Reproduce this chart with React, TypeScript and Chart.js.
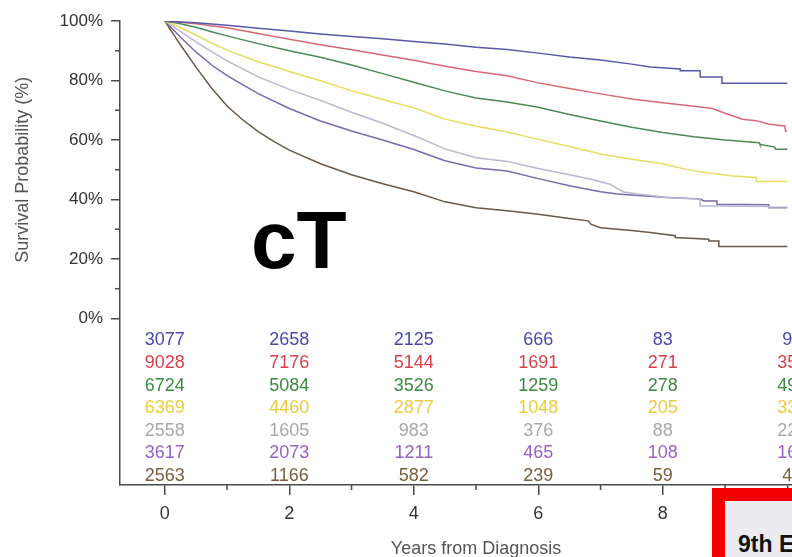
import React, { useEffect, useRef } from "react";
import { Chart, registerables } from "chart.js";

Chart.register(...registerables);

// ---- Data ----
const seriesNames = ["T1a", "T1b", "T1c", "T2a", "T2b", "T3", "T4"];

const curveT1a = [[0,100],[0.25,99.7],[0.5,99.4],[1,98.6],[1.5,97.6],[2,96.6],[2.5,95.6],[3,94.8],[3.5,94],[4,93.1],[4.5,92.3],[5,91.2],[5.5,90.4],[6,89.2],[6.5,87.9],[7,86.9],[7.5,85.5],[7.8,84.5],[8.28,83.9],[8.28,83.3],[8.6,83.3],[8.6,81.2],[8.95,81.2],[8.95,79.1],[10,79.1]];
const curveT1b = [[0,100],[0.25,99.6],[0.5,99.1],[0.75,98.4],[1,97.7],[1.5,95.8],[2,93.9],[2.5,92],[3,90.3],[3.5,88.6],[4,86.8],[4.5,84.8],[5,83],[5.5,81.6],[6,79.2],[6.5,77.3],[7,75.5],[7.5,73.8],[8,72.5],[8.5,71.3],[8.8,70.6],[9.0,69],[9.28,67],[9.5,66.5],[9.71,65.3],[9.96,64.7],[9.97,63],[10,63]];
const curveT1c = [[0,100],[0.25,99.1],[0.5,97.9],[0.75,96.4],[1,95],[1.5,92.4],[2,90],[2.5,87.8],[3,85.2],[3.5,82.3],[4,79.4],[4.5,76.5],[5,74.1],[5.5,72.8],[6,71],[6.5,68.6],[7,66.4],[7.5,64.3],[8,62.5],[8.5,61.1],[9,60],[9.55,59.1],[9.56,58.5],[9.8,57.6],[9.81,56.9],[10,56.9]];
const curveT2a = [[0,100],[0.25,97.8],[0.5,95.3],[0.75,92.6],[1,90.2],[1.5,86.3],[2,83],[2.5,79.9],[3,76.6],[3.5,73.6],[4,70.8],[4.5,67],[5,64.6],[5.5,62.7],[6,60.2],[6.5,57.8],[7,55.3],[7.5,53.5],[8,52],[8.36,50.2],[8.6,49.3],[9.12,47.9],[9.5,47.4],[9.5,46],[10,46]];
const curveT2b = [[0,100],[0.25,96.5],[0.5,93],[0.75,89.7],[1,86.6],[1.5,81.2],[2,77],[2.5,73.3],[3,69.3],[3.5,65.6],[4,61.5],[4.5,57],[5,54],[5.5,52.8],[6,50.4],[6.5,48.3],[6.85,46.8],[7.15,45.1],[7.37,42.5],[7.6,41.8],[8.07,40.7],[8.6,40.1],[8.6,37.8],[8.87,37.8],[9.7,37.6],[9.7,37.1],[10,37.1]];
const curveT3 = [[0,100],[0.25,94.6],[0.5,89.6],[0.75,85.2],[1,81.6],[1.5,75.6],[2,70.6],[2.5,66.4],[3,63],[3.5,60],[4,56.8],[4.5,53],[5,50.6],[5.5,49.6],[6,47],[6.5,44.6],[7,42.6],[7.27,41.8],[8.07,40.7],[8.6,40.2],[8.66,39.5],[8.87,39.5],[8.87,38.4],[9.7,38.2],[9.7,37.3],[10,37.3]];
const curveT4 = [[0,100],[0.25,92],[0.5,84.5],[0.75,77.5],[1,71.4],[1.25,66.8],[1.5,62.8],[1.75,59.5],[2,56.6],[2.5,52],[3,48.3],[3.5,45.3],[4,42.6],[4.5,39.2],[5,37.2],[5.5,36.2],[6,35],[6.5,33.6],[6.8,32.8],[6.85,31.6],[7,30.5],[7.5,29.6],[7.8,28.9],[8.2,27.8],[8.2,27.2],[8.74,26.6],[8.74,26],[8.9,26],[8.9,24.2],[10,24.2]];

const riskYears = [0, 2, 4, 6, 8, 10];
const atRiskT1a = [3077, 2658, 2125, 666, 83, 9];
const atRiskT1b = [9028, 7176, 5144, 1691, 271, 35];
const atRiskT1c = [6724, 5084, 3526, 1259, 278, 49];
const atRiskT2a = [6369, 4460, 2877, 1048, 205, 33];
const atRiskT2b = [2558, 1605, 983, 376, 88, 22];
const atRiskT3 = [3617, 2073, 1211, 465, 108, 16];
const atRiskT4 = [2563, 1166, 582, 239, 59, 4];

const yTickValues = [0, 20, 40, 60, 80, 100];
const yMinorValues = [10, 30, 50, 70, 90];
const xTickValues = [0, 2, 4, 6, 8, 10];
const xMinorValues = [1, 3, 5, 7, 9];

// ---- Styles ----
const curves = [curveT1a, curveT1b, curveT1c, curveT2a, curveT2b, curveT3, curveT4];
const riskRows = [atRiskT1a, atRiskT1b, atRiskT1c, atRiskT2a, atRiskT2b, atRiskT3, atRiskT4];
const lineColors = ["#5858a8", "#d86874", "#4a8a58", "#e6dc60", "#b8b8d0", "#7c68ac", "#6a5848"];
const tableColors = ["#4848b0", "#d8404a", "#3a8a40", "#eecb3c", "#a8a8a8", "#9a60c6", "#7a5c3c"];
const AXIS = "#4a4a4a";
const FONT = '"Liberation Sans", Arial, Helvetica, sans-serif';

const overlayPlugin = {
  id: "overlay",
  afterDraw(chart: any) {
    const { ctx } = chart;
    const x = chart.scales.x;
    const y = chart.scales.y;
    ctx.save();
    // minor ticks
    ctx.strokeStyle = AXIS;
    ctx.lineWidth = 1.5;
    yMinorValues.forEach((v) => {
      const py = y.getPixelForValue(v);
      ctx.beginPath();
      ctx.moveTo(x.left - 5, py);
      ctx.lineTo(x.left, py);
      ctx.stroke();
    });
    xMinorValues.forEach((v) => {
      const px = x.getPixelForValue(v);
      ctx.beginPath();
      ctx.moveTo(px, y.bottom);
      ctx.lineTo(px, y.bottom + 5);
      ctx.stroke();
    });
    // numbers at risk
    ctx.font = `18px ${FONT}`;
    ctx.textAlign = "center";
    ctx.textBaseline = "middle";
    const y0 = y.getPixelForValue(0);
    riskYears.forEach((yr, c) => {
      const px = x.getPixelForValue(yr);
      riskRows.forEach((row, r) => {
        ctx.fillStyle = tableColors[r];
        ctx.fillText(String(row[c]), px, y0 + 22 + r * 22.6);
      });
    });
    // big label
    ctx.fillStyle = "#000";
    ctx.font = `bold 82px ${FONT}`;
    ctx.textAlign = "left";
    ctx.textBaseline = "alphabetic";
    ctx.fillText("cT", 251, 268);
    // axis titles
    ctx.fillStyle = "#555";
    ctx.font = `18px ${FONT}`;
    ctx.textAlign = "center";
    ctx.fillText("Years from Diagnosis", x.getPixelForValue(5), 554);
    ctx.translate(23, (y.top + y0) / 2);
    ctx.rotate(-Math.PI / 2);
    ctx.textBaseline = "middle";
    ctx.fillText("Survival Probability (%)", 0, 0);
    ctx.restore();
  },
};

export default function App() {
  const ref = useRef<HTMLCanvasElement | null>(null);
  useEffect(() => {
    if (!ref.current) return;
    const chart = new Chart(ref.current, {
      type: "line",
      data: {
        datasets: curves.map((c, i) => ({
          label: seriesNames[i],
          data: c.map(([t, s]) => ({ x: t, y: s })),
          borderColor: lineColors[i],
          borderWidth: 1.5,
          pointRadius: 0,
          tension: 0,
          fill: false,
        })),
      },
      options: {
        animation: false,
        responsive: false,
        devicePixelRatio: 1,
        layout: { padding: { left: 0, top: 21, right: 16, bottom: 0 } },
        plugins: { legend: { display: false }, tooltip: { enabled: false }, title: { display: false } },
        scales: {
          x: {
            type: "linear",
            min: -0.72,
            max: 10.75,
            afterBuildTicks: (s: any) => { s.ticks = xTickValues.map((v) => ({ value: v })); },
            afterFit: (s: any) => { s.height = 72; },
            grid: { drawOnChartArea: false, drawTicks: true, tickLength: 10, color: AXIS, lineWidth: 1.5 },
            border: { display: true, color: AXIS, width: 1.5 },
            ticks: { padding: 8, color: "#333", font: { size: 18, family: FONT }, maxRotation: 0 },
          },
          y: {
            type: "linear",
            min: -56,
            max: 100,
            afterBuildTicks: (s: any) => { s.ticks = yTickValues.map((v) => ({ value: v })); },
            afterFit: (s: any) => { s.width = 120; },
            grid: { drawOnChartArea: false, drawTicks: true, tickLength: 9, color: AXIS, lineWidth: 1.5 },
            border: { display: true, color: AXIS, width: 1.5 },
            ticks: { padding: 8, color: "#333", font: { size: 17, family: FONT }, callback: (v: any) => `${v}%` },
          },
        },
      },
      plugins: [overlayPlugin],
    });
    return () => chart.destroy();
  }, []);

  return (
    <div style={{ position: "fixed", left: 0, top: 0, width: 792, height: 557, overflow: "hidden", background: "#fff" }}>
      <canvas ref={ref} width={850} height={557} style={{ position: "absolute", left: 0, top: 0, width: 850, height: 557 }} />
      <div
        style={{
          position: "absolute",
          left: 712,
          top: 488,
          width: 200,
          height: 100,
          boxSizing: "border-box",
          border: "13px solid #f40000",
          background: "#ebebf0",
        }}
      />
      <span
        style={{
          position: "absolute",
          left: 738,
          top: 533,
          font: `bold 23px ${FONT}`,
          lineHeight: "23px",
          color: "#111",
          whiteSpace: "nowrap",
        }}
      >
        9th Edition
      </span>
    </div>
  );
}
